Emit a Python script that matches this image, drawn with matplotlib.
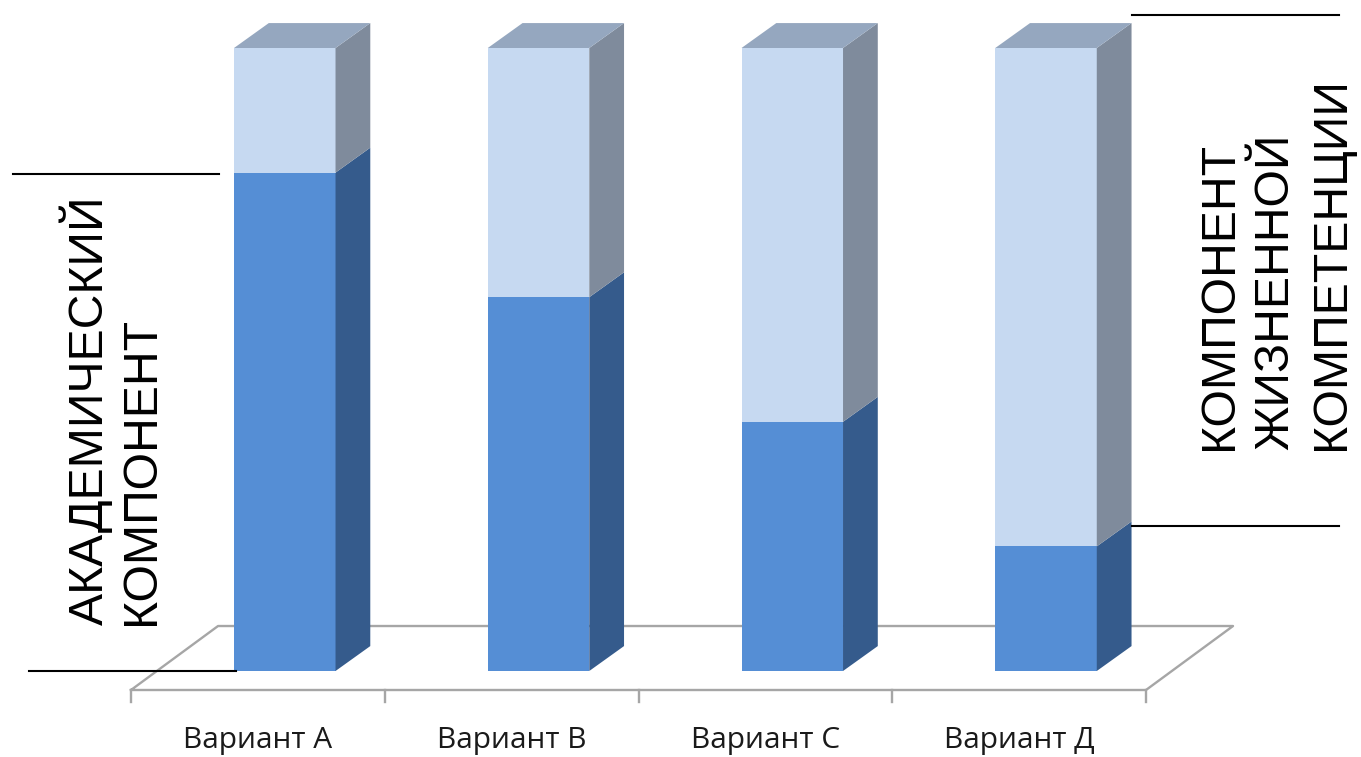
"""
Stacked pseudo-3D column chart: academic vs life competence component.
"""

import matplotlib
matplotlib.use('Agg')
import matplotlib.pyplot as plt
from matplotlib.patches import Polygon

W, H = 1361, 757

CATEGORIES = ['Вариант А', 'Вариант В', 'Вариант С', 'Вариант Д']
ACADEMIC = [4, 3, 2, 1]
LIFE = [1, 2, 3, 4]

COL_FRONT = ['#558ed5', '#c6d9f1']
COL_SIDE = ['#355b8c', '#7f8b9c']
COL_TOP = '#95a7bf'
GRID = '#a6a6a6'

# plot box in pixels: categories span 131..1146, y 0..5 spans 671..48
BOX_L, BOX_R, BOX_B, BOX_T = 131, 1146, 671, 48
BAR_W = 0.40
BAR_SHIFT = 0.106   # bars sit towards the middle of the floor depth
DX = 0.137   # depth offset, category units
DY = 0.20    # depth offset, value units
FLOOR_FRONT = -0.1525
FLOOR_BACK = 0.361
FLOOR_DX = 0.343
TICK_LEN = 0.095


def draw_bar(ax, x, y0, y1, i, top=False):
    l, r = x - BAR_W / 2, x + BAR_W / 2
    ax.add_patch(Polygon([(l, y0), (r, y0), (r, y1), (l, y1)],
                         fc=COL_FRONT[i], ec='none', clip_on=False, zorder=3))
    ax.add_patch(Polygon([(r, y0), (r + DX, y0 + DY), (r + DX, y1 + DY), (r, y1)],
                         fc=COL_SIDE[i], ec='none', clip_on=False, zorder=3))
    if top:
        ax.add_patch(Polygon([(l, y1), (r, y1), (r + DX, y1 + DY), (l + DX, y1 + DY)],
                             fc=COL_TOP, ec='none', clip_on=False, zorder=3))


def main():
    fig = plt.figure(figsize=(W / 100, H / 100), dpi=100, facecolor='white')
    ax = fig.add_axes([BOX_L / W, 1 - BOX_B / H, (BOX_R - BOX_L) / W, (BOX_B - BOX_T) / H])
    ax.set_xlim(-0.5, 3.5)
    ax.set_ylim(0, 5)
    ax.axis('off')

    # floor
    xs = [-0.5, -0.5 + FLOOR_DX, 3.5 + FLOOR_DX, 3.5, -0.5]
    ys = [FLOOR_FRONT, FLOOR_BACK, FLOOR_BACK, FLOOR_FRONT, FLOOR_FRONT]
    ax.plot(xs, ys, color=GRID, lw=1.7, clip_on=False, zorder=1)
    for k in range(5):
        ax.plot([k - 0.5, k - 0.5], [FLOOR_FRONT, FLOOR_FRONT - TICK_LEN],
                color=GRID, lw=1.7, clip_on=False, zorder=1)

    for k, (a, b) in enumerate(zip(ACADEMIC, LIFE)):
        draw_bar(ax, k + BAR_SHIFT, 0, a, 0)
        draw_bar(ax, k + BAR_SHIFT, a, a + b, 1, top=True)
        ax.text(k, -0.554, CATEGORIES[k], ha='center', va='center',
                fontsize=21.5, color='#1a1a1a', family='Open Sans', clip_on=False)

    # bracket lines and side captions are placed in figure pixels
    for x0, x1, y in [(13, 219, 174), (29, 236, 671), (1132, 1339, 15), (1132, 1339, 526)]:
        fig.add_artist(plt.Line2D([x0 / W, x1 / W], [1 - y / H, 1 - y / H],
                                  color='black', lw=1.5, zorder=5))

    fig.text(59 / W, 1 - 625 / H, 'АКАДЕМИЧЕСКИЙ\nКОМПОНЕНТ', rotation=90,
             ha='left', va='bottom', fontsize=34.7, family='Liberation Sans',
             linespacing=1.18, multialignment='left')
    fig.text(1197 / W, 1 - 450 / H, 'КОМПОНЕНТ\nЖИЗНЕННОЙ\nКОМПЕТЕНЦИИ', rotation=90,
             ha='left', va='bottom', fontsize=34.7, family='Liberation Sans',
             linespacing=1.31, multialignment='left')

    fig.savefig('out.png', dpi=100)


if __name__ == '__main__':
    main()
